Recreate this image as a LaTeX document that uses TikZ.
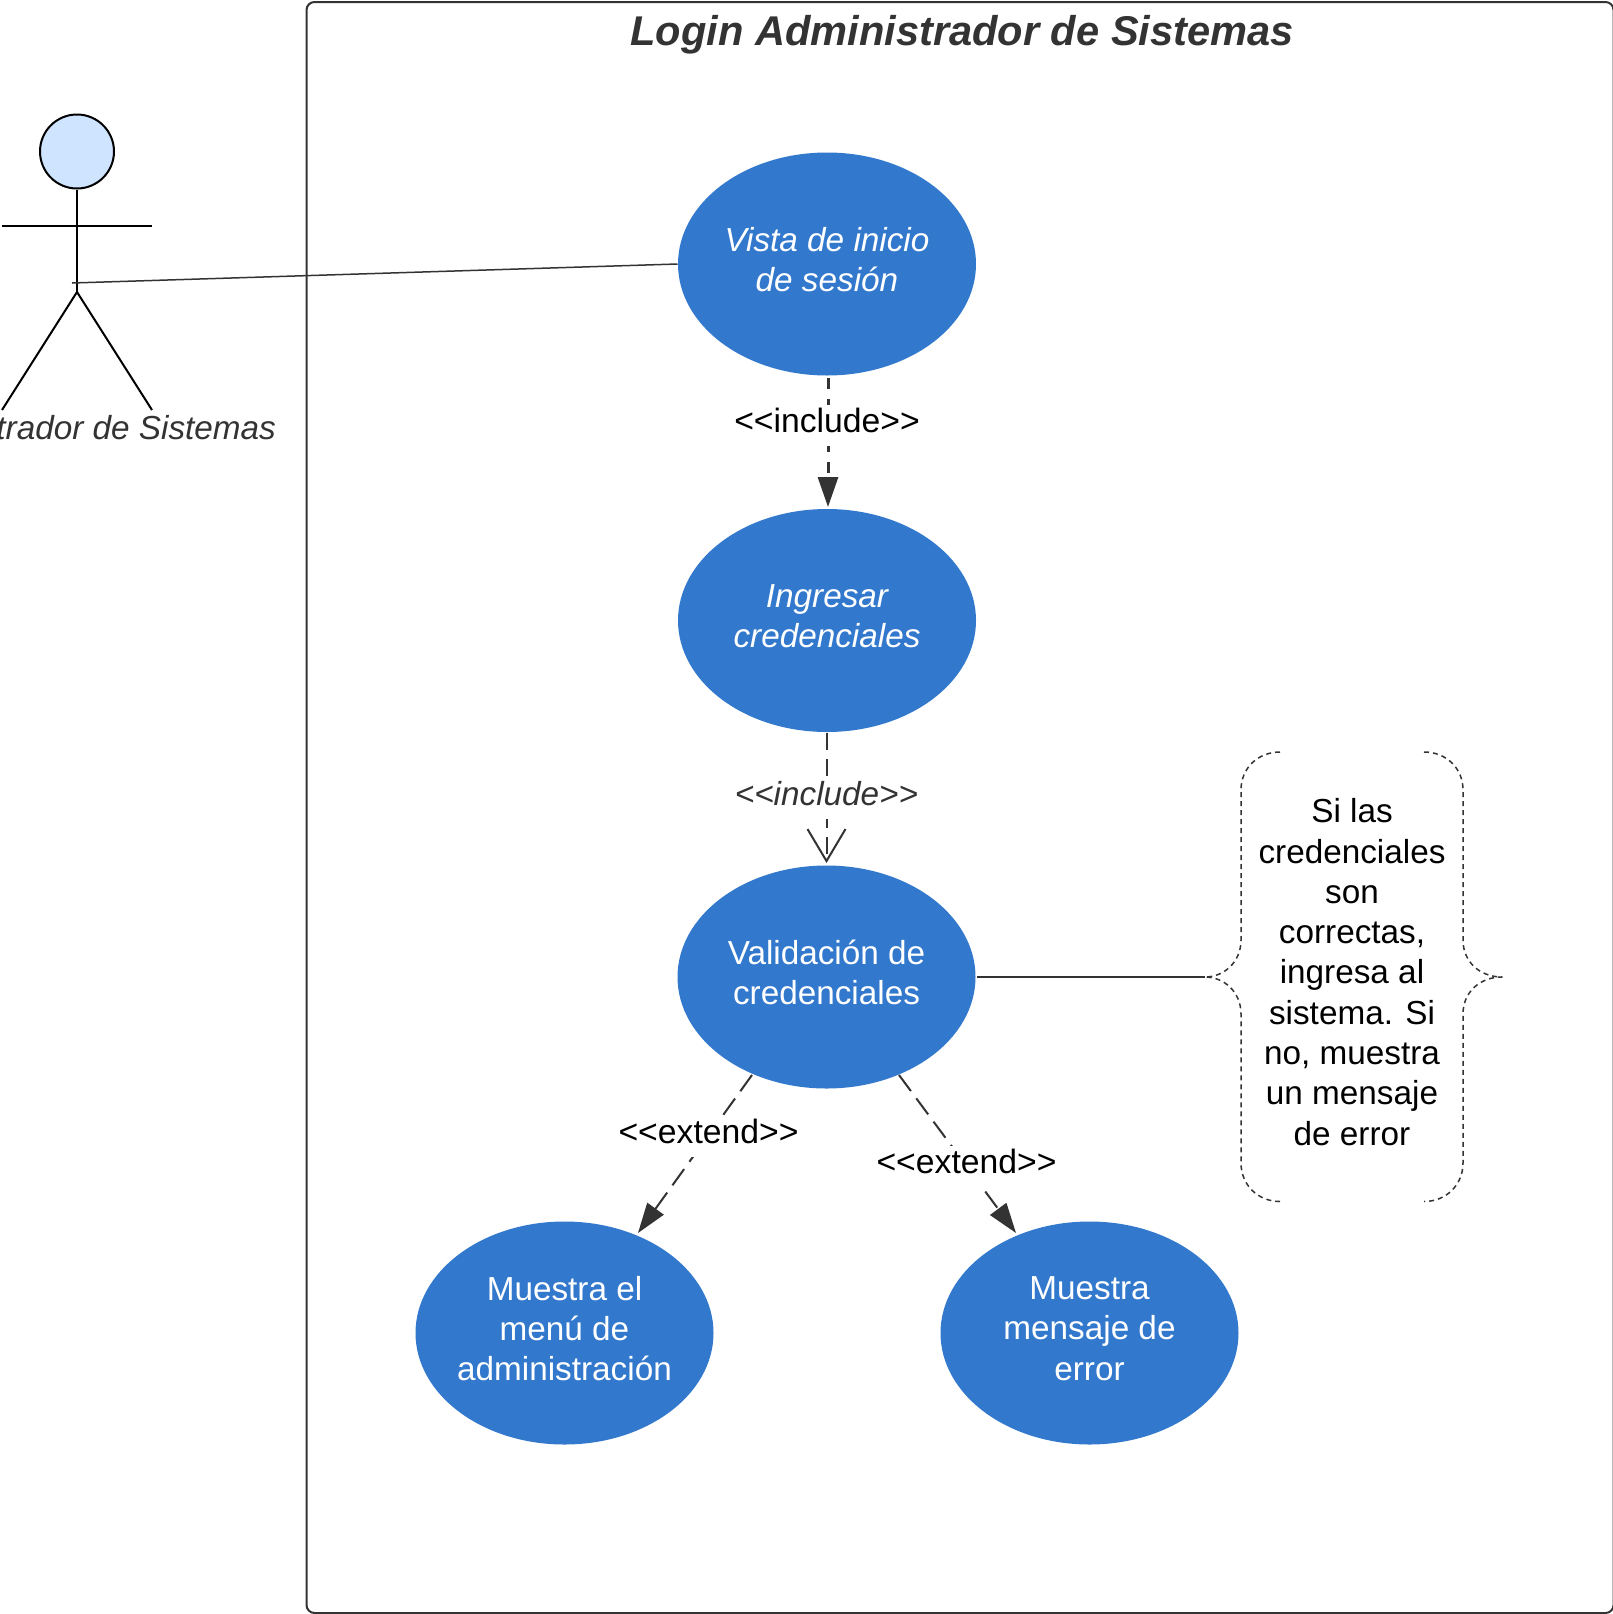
\documentclass[tikz,border=0pt]{standalone}
\usepackage{fontspec}
\setmainfont{Liberation Sans}
\usetikzlibrary{arrows.meta,shapes.geometric}
\definecolor{ucblue}{HTML}{3278CD}
\definecolor{dark}{HTML}{333333}
\definecolor{headblue}{HTML}{CFE4FF}
\newcommand\liftup{\\[-31pt]\mbox{}}
\newcommand\bodyfont{\fontsize{33.3}{40.3}\selectfont}
\newcommand\labelfont{\fontsize{33.7}{40.3}\selectfont}
\tikzset{
  usecase/.style={ellipse,fill=ucblue,text=white,minimum width=298pt,minimum height=223pt,inner sep=-30pt,align=center,font=\bodyfont},
  lbl/.style={fill=white,inner xsep=1pt,inner ysep=1pt,text height=27pt,text depth=12pt,anchor=base,font=\labelfont},
  stick/.style={draw=black,line width=2pt},
  dep/.style={draw=dark,line width=2pt,dash pattern=on 20pt off 9pt},
  solidtip/.style={-{Triangle[length=30pt,width=20pt,fill=dark]}},
  opentip/.style={-{Straight Barb[length=32pt,width=38pt,line width=2pt]}},
  brace/.style={draw=dark,line width=1.5pt,dash pattern=on 5pt off 4pt},
}
\begin{document}
\begin{tikzpicture}[x=1pt,y=-1pt,line join=round]
\useasboundingbox (0,0) rectangle (1613,1614);
\clip (0,0) rectangle (1613,1614);
\fill[white] (0,0) rectangle (1613,1614);
% system frame
\draw[dark,line width=2pt,rounded corners=8pt] (306.5,2) rectangle (1613.5,1613);
\node[font=\fontsize{41.6}{48}\selectfont\bfseries\itshape,text=dark] (title) at (962,35) {Login Administrador de Sistemas};
% use cases
\node[usecase,font=\bodyfont\itshape] (e1) at (827,264) {Vista de inicio\\de sesión\liftup};
\node[usecase,font=\bodyfont\itshape] (e2) at (827,620.5) {Ingresar\\credenciales\liftup};
\node[usecase] (e3) at (826.5,977) {Validación de\\credenciales\liftup};
\node[usecase] (e4) at (564.5,1333) {Muestra el\\menú de\\administración\liftup};
\node[usecase] (e5) at (1089.5,1333) {Muestra\\mensaje de\\error\liftup};
% actor
\node[circle,draw=black,line width=2pt,fill=headblue,minimum size=74pt,inner sep=0pt] (head) at (77,151.5) {};
\coordinate (hip) at (77,292);
\coordinate (armL) at (2,225.5);
\coordinate (armR) at (152,225.5);
\coordinate (footL) at (2,410);
\coordinate (footR) at (152,410);
\coordinate (touch) at (72,283);
\draw[stick] (head.south) -- (hip);
\draw[stick] (armL) -- (armR);
\draw[stick] (footL) -- (hip) -- (footR);
\node[font=\bodyfont\itshape,text=dark] (actor) at (77,428) {Administrador de Sistemas};
% connectors
\coordinate (e1w) at (677.5,264);
\draw[dark,line width=1.5pt] (touch) -- (e1w);
\coordinate (a1) at (828,378);
\coordinate (b1) at (828,507);
\draw[dep,line width=3pt,dash pattern=on 11pt off 10pt,solidtip] (a1) -- (b1);
\node[lbl] (l1) at (827,432.5) {<{}<include>{}>};
\coordinate (a2) at (826.5,733);
\coordinate (b2) at (826.5,863);
\draw[dep,dash pattern=on 17pt off 9pt,opentip] (a2) -- (b2);
\node[lbl,text=dark,font=\bodyfont\itshape] (l2) at (826.5,805.5) {<{}<include>{}>};
\coordinate (a3) at (752,1075);
\coordinate (b3) at (638,1233);
\draw[dep,solidtip] (a3) -- (b3);
\node[lbl] (l3) at (708.5,1143.5) {<{}<extend>{}>};
\coordinate (a4) at (899,1075);
\coordinate (b4) at (1016,1233);
\draw[dep,solidtip] (a4) -- (b4);
\node[lbl] (l4) at (966.5,1173.5) {<{}<extend>{}>};
% note
\node[align=center,font=\bodyfont] (note) at (1352,972) {Si las\\credenciales\\son\\correctas,\\ingresa al\\sistema. Si\\no, muestra\\un mensaje\\de error};
\coordinate (tipL) at (1205,977);
\coordinate (tipR) at (1502,977);
\coordinate (e3r) at (977,977);
\draw[dark,line width=1.5pt] (e3r) -- (tipL);
\draw[brace] (1280,752) .. controls (1258,752) and (1241,768) .. (1241,790) -- (1241,940) .. controls (1241,962) and (1224,977) .. (tipL) .. controls (1224,977) and (1241,992) .. (1241,1014) -- (1241,1163) .. controls (1241,1185) and (1258,1201.5) .. (1280,1201.5);
\draw[brace] (1424,752) .. controls (1446,752) and (1463,768) .. (1463,790) -- (1463,940) .. controls (1463,962) and (1480,977) .. (tipR) .. controls (1480,977) and (1463,992) .. (1463,1014) -- (1463,1163) .. controls (1463,1185) and (1446,1201.5) .. (1424,1201.5);
\end{tikzpicture}
\end{document}
